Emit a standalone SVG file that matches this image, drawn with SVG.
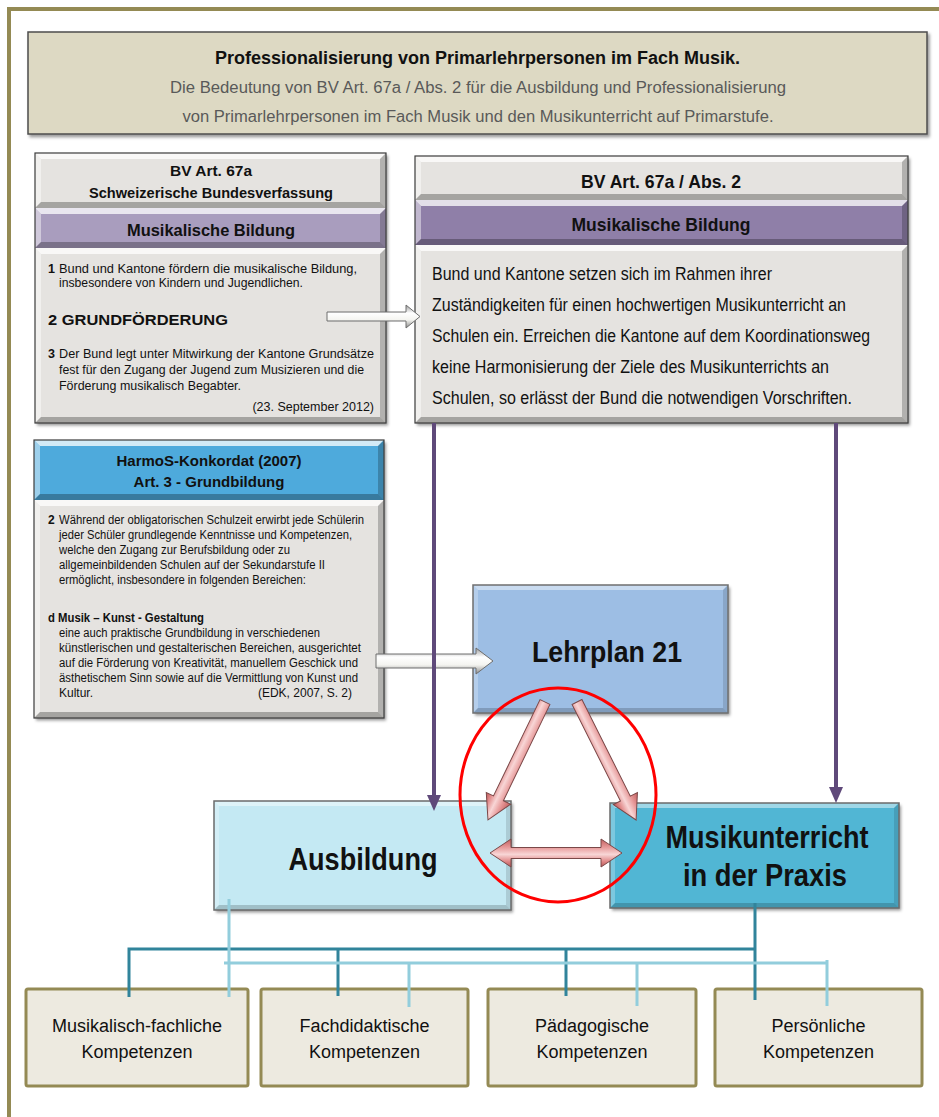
<svg xmlns="http://www.w3.org/2000/svg" width="939" height="1117" viewBox="0 0 939 1117">
<defs>
  <style>
    .t{font-family:"Liberation Sans",Arial,sans-serif;fill:#111}
    .b{font-weight:bold}
    .m{text-anchor:middle}
    .e{text-anchor:end}
    .sub{fill:#595959}
    .bt{fill:#fff;opacity:.75}
    .bl{fill:#fff;opacity:.45}
    .br{fill:#000;opacity:.22}
    .bb{fill:#000;opacity:.28}
    .st{fill:#fff;opacity:.45}
    .sl{fill:#fff;opacity:.25}
    .sr{fill:#000;opacity:.12}
    .sb{fill:#000;opacity:.18}
    .outline{fill:none;stroke:#3d3d3d;stroke-width:1.2}
    .comp{fill:#edeae0;stroke:#948a54;stroke-width:3}
    .teal{stroke:#31849b;stroke-width:3;fill:none}
    .lblue{stroke:#92cddc;stroke-width:3;fill:none}
    .purple{stroke:#5f497a;stroke-width:4;fill:none}
    .block{fill:url(#blockGrad);stroke:#6e6e6e;stroke-width:1}
    .pink{fill:url(#pinkGrad);stroke:#7a4848;stroke-width:1}
  </style>
  <filter id="shadow" x="-5%" y="-5%" width="115%" height="120%">
    <feDropShadow dx="2" dy="2.5" stdDeviation="1.5" flood-color="#000" flood-opacity="0.4"/>
  </filter>
  <linearGradient id="blockGrad" x1="0" y1="0" x2="0" y2="1">
    <stop offset="0" stop-color="#9a9a9a"/>
    <stop offset="0.35" stop-color="#ffffff"/>
    <stop offset="0.65" stop-color="#f4f4f0"/>
    <stop offset="1" stop-color="#8a8a8a"/>
  </linearGradient>
  <linearGradient id="pinkGrad" x1="0" y1="0" x2="0" y2="1">
    <stop offset="0" stop-color="#c45e5e"/>
    <stop offset="0.3" stop-color="#e79a9a"/>
    <stop offset="0.55" stop-color="#f8d6d6"/>
    <stop offset="0.8" stop-color="#e08888"/>
    <stop offset="1" stop-color="#b85656"/>
  </linearGradient>
  <marker id="purpleHead" markerUnits="userSpaceOnUse" markerWidth="16" markerHeight="16" refX="2" refY="7" orient="auto">
    <path d="M0,0 L16,7 L0,14 Z" fill="#5f497a"/>
  </marker>
</defs>

<!-- outer frame -->
<path d="M9 1117 V9 H939" fill="none" stroke="#948a54" stroke-width="4"/>

<!-- title panel -->
<g id="title">
  <rect x="28" y="32" width="899" height="102" fill="#ddd9c3" stroke="#4d4d4d" stroke-width="1.5" filter="url(#shadow)"/>
  <text class="t b m" x="477.5" y="64" font-size="18">Professionalisierung von Primarlehrpersonen im Fach Musik.</text>
  <text class="t sub m" x="478" y="93" font-size="16" textLength="616" lengthAdjust="spacingAndGlyphs">Die Bedeutung von BV Art. 67a / Abs. 2 für die Ausbildung und Professionalisierung</text>
  <text class="t sub m" x="478" y="122" font-size="16" textLength="591" lengthAdjust="spacingAndGlyphs">von Primarlehrpersonen im Fach Musik und den Musikunterricht auf Primarstufe.</text>
</g>

<!-- BV Art. 67a -->
<g id="bv67a">
  <rect x="35" y="153" width="351" height="270" fill="#e5e3e0" filter="url(#shadow)"/>
  <rect x="35" y="208" width="351" height="40" fill="#a99dbe"/>
  <path class="bt" d="M35 153H386L380 159H41Z"/><path class="bl" d="M35 153L41 159V202L35 208Z"/><path class="br" d="M386 153V208L380 202V159Z"/><path class="bb" d="M35 208H386L380 202H41Z"/>
  <path class="bt" d="M35 208H386L380 214H41Z"/><path class="bl" d="M35 208L41 214V242L35 248Z"/><path class="br" d="M386 208V248L380 242V214Z"/><path class="bb" d="M35 248H386L380 242H41Z"/>
  <path class="bt" d="M35 248H386L380 254H41Z"/><path class="bl" d="M35 248L41 254V417L35 423Z"/><path class="br" d="M386 248V423L380 417V254Z"/><path class="bb" d="M35 423H386L380 417H41Z"/>
  <rect class="outline" x="35" y="153" width="351" height="270"/>
  <text class="t b m" x="211" y="176" font-size="15.5">BV Art. 67a</text>
  <text class="t b m" x="211" y="198" font-size="15.5" textLength="244" lengthAdjust="spacingAndGlyphs">Schweizerische Bundesverfassung</text>
  <text class="t b m" x="211" y="236" font-size="17" textLength="168" lengthAdjust="spacingAndGlyphs">Musikalische Bildung</text>
  <text class="t b" x="48" y="273" font-size="12.5">1</text>
  <text class="t" x="59" y="273" font-size="12.5" textLength="298" lengthAdjust="spacingAndGlyphs">Bund und Kantone fördern die musikalische Bildung,</text>
  <text class="t" x="59" y="287" font-size="12.5" textLength="244" lengthAdjust="spacingAndGlyphs">insbesondere von Kindern und Jugendlichen.</text>
  <text class="t b" x="48" y="325" font-size="15" textLength="180" lengthAdjust="spacingAndGlyphs">2  GRUNDFÖRDERUNG</text>
  <text class="t b" x="48" y="358" font-size="12.5">3</text>
  <text class="t" x="59" y="358" font-size="12.5" textLength="315" lengthAdjust="spacingAndGlyphs">Der Bund legt unter Mitwirkung der Kantone Grundsätze</text>
  <text class="t" x="59" y="374" font-size="12.5" textLength="305" lengthAdjust="spacingAndGlyphs">fest für den Zugang der Jugend zum Musizieren und die</text>
  <text class="t" x="59" y="390" font-size="12.5" textLength="182" lengthAdjust="spacingAndGlyphs">Förderung musikalisch Begabter.</text>
  <text class="t e" x="374" y="411" font-size="12.5">(23. September 2012)</text>
</g>

<!-- BV Art. 67a / Abs. 2 -->
<g id="bv67a-abs2">
  <rect x="415" y="156" width="493" height="267" fill="#e5e3e0" filter="url(#shadow)"/>
  <rect x="415" y="200" width="493" height="45" fill="#8f7fa8"/>
  <path class="bt" d="M415 156H908L902 162H421Z"/><path class="bl" d="M415 156L421 162V194L415 200Z"/><path class="br" d="M908 156V200L902 194V162Z"/><path class="bb" d="M415 200H908L902 194H421Z"/>
  <path class="bt" d="M415 200H908L902 206H421Z"/><path class="bl" d="M415 200L421 206V239L415 245Z"/><path class="br" d="M908 200V245L902 239V206Z"/><path class="bb" d="M415 245H908L902 239H421Z"/>
  <path class="bt" d="M415 245H908L902 251H421Z"/><path class="bl" d="M415 245L421 251V417L415 423Z"/><path class="br" d="M908 245V423L902 417V251Z"/><path class="bb" d="M415 423H908L902 417H421Z"/>
  <rect class="outline" x="415" y="156" width="493" height="267"/>
  <text class="t b m" x="661" y="188" font-size="19" textLength="160" lengthAdjust="spacingAndGlyphs">BV Art. 67a / Abs. 2</text>
  <text class="t b m" x="661" y="231" font-size="19" textLength="179" lengthAdjust="spacingAndGlyphs">Musikalische Bildung</text>
  <text class="t" x="432" y="280" font-size="17.5" textLength="340" lengthAdjust="spacingAndGlyphs">Bund und Kantone setzen sich im Rahmen ihrer</text>
  <text class="t" x="432" y="311" font-size="17.5" textLength="414" lengthAdjust="spacingAndGlyphs">Zuständigkeiten für einen hochwertigen Musikunterricht an</text>
  <text class="t" x="432" y="342" font-size="17.5" textLength="438" lengthAdjust="spacingAndGlyphs">Schulen ein. Erreichen die Kantone auf dem Koordinationsweg</text>
  <text class="t" x="432" y="373" font-size="17.5" textLength="397" lengthAdjust="spacingAndGlyphs">keine Harmonisierung der Ziele des Musikunterrichts an</text>
  <text class="t" x="432" y="404" font-size="17.5" textLength="420" lengthAdjust="spacingAndGlyphs">Schulen, so erlässt der Bund die notwendigen Vorschriften.</text>
</g>

<!-- HarmoS-Konkordat -->
<g id="harmos">
  <rect x="34" y="440" width="350" height="278" fill="#e5e3e0" filter="url(#shadow)"/>
  <rect x="34" y="440" width="350" height="60" fill="#4eaadc"/>
  <path class="bt" d="M34 440H384L378 446H40Z"/><path class="bl" d="M34 440L40 446V494L34 500Z"/><path class="br" d="M384 440V500L378 494V446Z"/><path class="bb" d="M34 500H384L378 494H40Z"/>
  <path class="bt" d="M34 500H384L378 506H40Z"/><path class="bl" d="M34 500L40 506V712L34 718Z"/><path class="br" d="M384 500V718L378 712V506Z"/><path class="bb" d="M34 718H384L378 712H40Z"/>
  <rect class="outline" x="34" y="440" width="350" height="278"/>
  <text class="t b m" x="209" y="466" font-size="15">HarmoS-Konkordat (2007)</text>
  <text class="t b m" x="209" y="487" font-size="15">Art. 3 - Grundbildung</text>
  <text class="t b" x="48" y="524" font-size="12">2</text>
  <text class="t" x="59" y="524" font-size="12" textLength="305" lengthAdjust="spacingAndGlyphs">Während der obligatorischen Schulzeit erwirbt jede Schülerin</text>
  <text class="t" x="59" y="539" font-size="12" textLength="293" lengthAdjust="spacingAndGlyphs">jeder Schüler grundlegende Kenntnisse und Kompetenzen,</text>
  <text class="t" x="59" y="554" font-size="12" textLength="231" lengthAdjust="spacingAndGlyphs">welche den Zugang zur Berufsbildung oder zu</text>
  <text class="t" x="59" y="569" font-size="12" textLength="266" lengthAdjust="spacingAndGlyphs">allgemeinbildenden Schulen auf der Sekundarstufe II</text>
  <text class="t" x="59" y="584" font-size="12" textLength="247" lengthAdjust="spacingAndGlyphs">ermöglicht, insbesondere in folgenden Bereichen:</text>
  <text class="t b" x="48" y="622" font-size="12" textLength="156" lengthAdjust="spacingAndGlyphs">d Musik – Kunst - Gestaltung</text>
  <text class="t" x="59" y="637" font-size="12" textLength="261" lengthAdjust="spacingAndGlyphs">eine auch praktische Grundbildung in verschiedenen</text>
  <text class="t" x="59" y="652" font-size="12" textLength="302" lengthAdjust="spacingAndGlyphs">künstlerischen und gestalterischen Bereichen, ausgerichtet</text>
  <text class="t" x="59" y="667" font-size="12" textLength="299" lengthAdjust="spacingAndGlyphs">auf die Förderung von Kreativität, manuellem Geschick und</text>
  <text class="t" x="59" y="682" font-size="12" textLength="299" lengthAdjust="spacingAndGlyphs">ästhetischem Sinn sowie auf die Vermittlung von Kunst und</text>
  <text class="t" x="59" y="697" font-size="12">Kultur.</text>
  <text class="t e" x="352" y="697" font-size="12">(EDK, 2007, S. 2)</text>
</g>

<!-- Lehrplan 21 -->
<g id="lehrplan">
  <rect x="473" y="585" width="255" height="128" fill="#9dbee4" filter="url(#shadow)"/>
  <path class="st" d="M473 585H728L723 590H478Z"/><path class="sl" d="M473 585L478 590V708L473 713Z"/><path class="sr" d="M728 585V713L723 708V590Z"/><path class="sb" d="M473 713H728L723 708H478Z"/>
  <rect x="473" y="585" width="255" height="128" fill="none" stroke="#6f6f6f" stroke-width="1.5"/>
  <text class="t b m" x="607" y="662" font-size="30" textLength="150" lengthAdjust="spacingAndGlyphs">Lehrplan 21</text>
</g>

<!-- Ausbildung -->
<g id="ausbildung">
  <rect x="214" y="801" width="297" height="109" fill="#c4e9f3" filter="url(#shadow)"/>
  <path class="st" d="M214 801H511L506 806H219Z"/><path class="sl" d="M214 801L219 806V905L214 910Z"/><path class="sr" d="M511 801V910L506 905V806Z"/><path class="sb" d="M214 910H511L506 905H219Z"/>
  <rect x="214" y="801" width="297" height="109" fill="none" stroke="#6b6b6b" stroke-width="1.5"/>
  <text class="t b m" x="363" y="870" font-size="31" textLength="149" lengthAdjust="spacingAndGlyphs">Ausbildung</text>
</g>

<!-- Musikunterricht in der Praxis -->
<g id="praxis">
  <rect x="610" y="803" width="289" height="105" fill="#51b6d4" filter="url(#shadow)"/>
  <path class="st" d="M610 803H899L894 808H615Z"/><path class="sl" d="M610 803L615 808V903L610 908Z"/><path class="sr" d="M899 803V908L894 903V808Z"/><path class="sb" d="M610 908H899L894 903H615Z"/>
  <rect x="610" y="803" width="289" height="105" fill="none" stroke="#6b6b6b" stroke-width="1.5"/>
  <text class="t b m" x="767" y="848" font-size="31" textLength="203" lengthAdjust="spacingAndGlyphs">Musikunterricht</text>
  <text class="t b m" x="765" y="886" font-size="31" textLength="164" lengthAdjust="spacingAndGlyphs">in der Praxis</text>
</g>

<!-- competence boxes -->
<g id="komp-musik">
  <rect class="comp" x="26" y="989" width="222" height="97" rx="2"/>
  <text class="t m" x="137" y="1032" font-size="18">Musikalisch-fachliche</text>
  <text class="t m" x="137" y="1058" font-size="18">Kompetenzen</text>
</g>
<g id="komp-fachdidaktik">
  <rect class="comp" x="261" y="989" width="207" height="97" rx="2"/>
  <text class="t m" x="364.5" y="1032" font-size="18">Fachdidaktische</text>
  <text class="t m" x="364.5" y="1058" font-size="18">Kompetenzen</text>
</g>
<g id="komp-paedagogik">
  <rect class="comp" x="488" y="989" width="208" height="97" rx="2"/>
  <text class="t m" x="592" y="1032" font-size="18">Pädagogische</text>
  <text class="t m" x="592" y="1058" font-size="18">Kompetenzen</text>
</g>
<g id="komp-persoenlich">
  <rect class="comp" x="715" y="989" width="207" height="97" rx="2"/>
  <text class="t m" x="818.5" y="1032" font-size="18">Persönliche</text>
  <text class="t m" x="818.5" y="1058" font-size="18">Kompetenzen</text>
</g>

<!-- connectors -->
<g id="connectors">
  <!-- block arrows from the legal texts -->
  <polygon class="block" points="327,312 406,312 406,305 420,316.5 406,328 406,321 327,321"/>
  <polygon class="block" points="376,654 476,654 476,648 493,661 476,674 476,668 376,668"/>
  <!-- BV Abs. 2 down to training and practice -->
  <line class="purple" x1="434" y1="423" x2="434" y2="797" marker-end="url(#purpleHead)"/>
  <line class="purple" x1="836" y1="423" x2="836" y2="789" marker-end="url(#purpleHead)"/>
  <!-- practice to competences -->
  <path class="teal" d="M755 903V1000 M129 949H756.5 M129 947.5V997 M338 949V996 M566 949V996"/>
  <!-- training to competences -->
  <path class="lblue" d="M229 899V997 M224 963H828.5 M409 963V1007 M637 963V1006 M827 960V1006"/>
  <!-- interplay of curriculum, training and practice -->
  <ellipse cx="558" cy="795" rx="98" ry="107" fill="none" stroke="#ff0000" stroke-width="3"/>
  <g transform="translate(545,702) rotate(115.8)">
    <polygon class="pink" points="0,-5.5 107,-5.5 107,-13.5 131,0 107,13.5 107,5.5 0,5.5"/>
  </g>
  <g transform="translate(577,702) rotate(63.4)">
    <polygon class="pink" points="0,-5.5 108,-5.5 108,-13.5 132,0 108,13.5 108,5.5 0,5.5"/>
  </g>
  <polygon class="pink" points="490,853 511,839 511,847.5 601,847.5 601,839 622,853 601,867 601,858.5 511,858.5 511,867"/>
</g>
</svg>
